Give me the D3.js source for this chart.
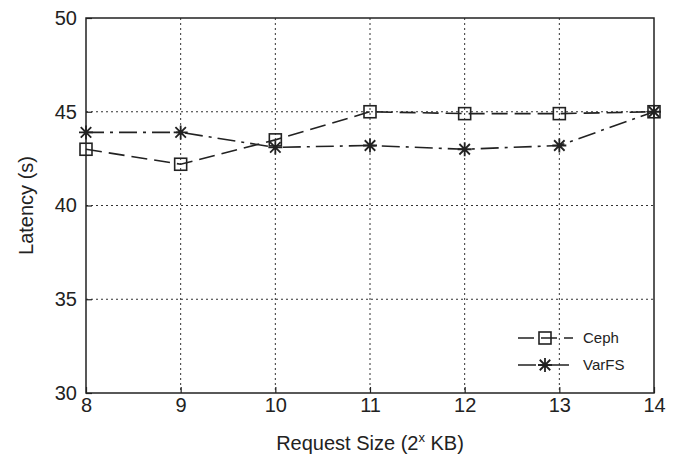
<!DOCTYPE html>
<html>
<head>
<meta charset="utf-8">
<script src="https://cdn.jsdelivr.net/npm/d3@7"></script>
<style>
  body { margin: 0; background: #fff; }
  text { font-family: "Liberation Sans", Arial, sans-serif; fill: #222; }
</style>
</head>
<body>
<div id="plot"></div>
<script>
// request size exponents (2^x KB)
const sizes = [8, 9, 10, 11, 12, 13, 14];
const cephLatency = [43.0, 42.2, 43.5, 45.0, 44.9, 44.9, 45.0];
const varfsLatency = [43.9, 43.9, 43.1, 43.2, 43.0, 43.2, 45.0];
const yTicks = [30, 35, 40, 45, 50];

const svgWidth = 682;
const svgHeight = 457;
const margin = { top: 18, right: 28, bottom: 64, left: 86 };
const width = svgWidth - margin.left - margin.right;
const height = svgHeight - margin.top - margin.bottom;

const svg = d3
  .select("div#plot")
  .append("svg")
  .attr("width", svgWidth)
  .attr("height", svgHeight);

const g = svg
  .append("g")
  .attr("transform", "translate(" + margin.left + "," + margin.top + ")");

const x = d3.scaleLinear().domain([8, 14]).range([0, width]);
const y = d3.scaleLinear().domain([30, 50]).range([height, 0]);

// dotted grid
g.selectAll(".vgrid")
  .data(sizes.slice(1, -1))
  .enter()
  .append("line")
  .attr("x1", (d) => x(d))
  .attr("x2", (d) => x(d))
  .attr("y1", 0)
  .attr("y2", height)
  .style("stroke", "#333")
  .style("stroke-width", 1)
  .style("stroke-dasharray", "2,3");

g.selectAll(".hgrid")
  .data(yTicks.slice(1, -1))
  .enter()
  .append("line")
  .attr("x1", 0)
  .attr("x2", width)
  .attr("y1", (d) => y(d))
  .attr("y2", (d) => y(d))
  .style("stroke", "#333")
  .style("stroke-width", 1)
  .style("stroke-dasharray", "2,3");

// axes with inward ticks
const xAxis = g
  .append("g")
  .attr("transform", "translate(0," + height + ")")
  .call(d3.axisBottom(x).tickValues(sizes).tickFormat(d3.format("d")).tickSizeInner(-6).tickSizeOuter(0).tickPadding(5));
const yAxis = g
  .append("g")
  .call(d3.axisLeft(y).tickValues(yTicks).tickSizeInner(-6).tickSizeOuter(0).tickPadding(9));

[xAxis, yAxis].forEach((a) => {
  a.select(".domain").remove();
  a.selectAll("line").style("stroke", "#222").style("stroke-width", 1.2);
  a.selectAll("text").style("font-size", "20px").style("fill", "#222");
});

// frame
g.append("rect")
  .attr("width", width)
  .attr("height", height)
  .style("fill", "none")
  .style("stroke", "#222")
  .style("stroke-width", 1.5);

const line = d3
  .line()
  .x((d) => x(d[0]))
  .y((d) => y(d[1]));

const series = [
  { name: "Ceph", values: cephLatency, dash: "16,7", marker: "square" },
  { name: "VarFS", values: varfsLatency, dash: "18,6,3,6", marker: "star" },
];

function drawMarker(sel, type, cx, cy) {
  if (type === "square") {
    sel.append("rect")
      .attr("x", cx - 6)
      .attr("y", cy - 6)
      .attr("width", 12)
      .attr("height", 12)
      .style("fill", "none")
      .style("stroke", "#222")
      .style("stroke-width", 1.6);
  } else {
    const r = 7;
    const path = d3.path();
    path.moveTo(cx - r, cy); path.lineTo(cx + r, cy);
    path.moveTo(cx, cy - r); path.lineTo(cx, cy + r);
    const k = r * 0.75;
    path.moveTo(cx - k, cy - k); path.lineTo(cx + k, cy + k);
    path.moveTo(cx - k, cy + k); path.lineTo(cx + k, cy - k);
    sel.append("path")
      .attr("d", path.toString())
      .style("stroke", "#222")
      .style("stroke-width", 1.8);
  }
}

series.forEach((s) => {
  const pts = sizes.map((d, i) => [d, s.values[i]]);
  g.append("path")
    .attr("d", line(pts))
    .style("fill", "none")
    .style("stroke", "#222")
    .style("stroke-width", 1.6)
    .style("stroke-dasharray", s.dash);
  pts.forEach((p) => drawMarker(g, s.marker, x(p[0]), y(p[1])));
});

// legend
const legend = g.append("g").attr("transform", "translate(" + (width - 136) + "," + (height - 55) + ")");
series.forEach((s, i) => {
  const ly = i * 27;
  legend.append("line")
    .attr("x1", 0)
    .attr("x2", 55)
    .attr("y1", ly)
    .attr("y2", ly)
    .style("stroke", "#222")
    .style("stroke-width", 1.6)
    .style("stroke-dasharray", s.dash);
  drawMarker(legend, s.marker, 27, ly);
  legend.append("text")
    .attr("x", 65)
    .attr("y", ly)
    .attr("dy", "0.35em")
    .style("font-size", "15px")
    .text(s.name);
});

// axis titles
const xt = svg.append("text")
  .attr("x", margin.left + width / 2)
  .attr("y", 450)
  .style("text-anchor", "middle")
  .style("font-size", "20px");
xt.append("tspan").text("Request Size (2");
xt.append("tspan").attr("dy", "-8").style("font-size", "13px").text("x");
xt.append("tspan").attr("dy", "8").text(" KB)");

svg.append("text")
  .attr("transform", "translate(33," + (margin.top + height / 2) + ") rotate(-90)")
  .style("text-anchor", "middle")
  .style("font-size", "20px")
  .text("Latency (s)");
</script>
</body>
</html>
